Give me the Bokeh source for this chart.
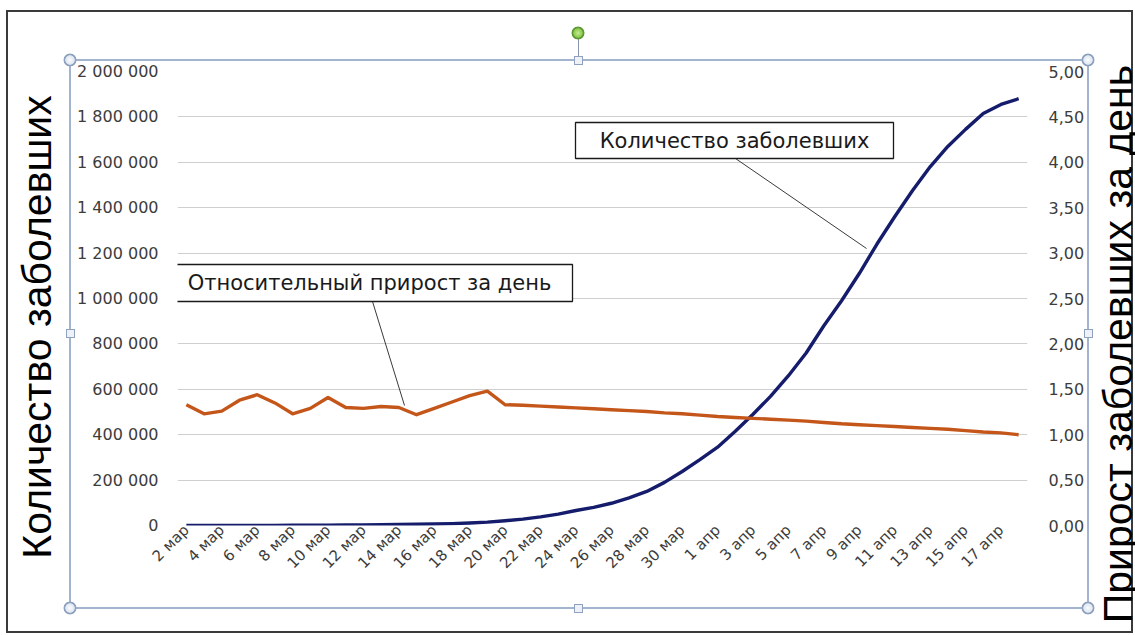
from math import pi
from bokeh.plotting import figure
from bokeh.layouts import row
from bokeh.models import (Range1d, LinearAxis, SingleIntervalTicker, FixedTicker,
                          CustomJSTickFormatter, Label, BoxAnnotation, Arrow)
from bokeh.embed import file_html
from bokeh.resources import INLINE

# ---------------- data ----------------
dates = ["2 мар", "3 мар", "4 мар", "5 мар", "6 мар", "7 мар", "8 мар", "9 мар",
         "10 мар", "11 мар", "12 мар", "13 мар", "14 мар", "15 мар", "16 мар", "17 мар",
         "18 мар", "19 мар", "20 мар", "21 мар", "22 мар", "23 мар", "24 мар", "25 мар",
         "26 мар", "27 мар", "28 мар", "29 мар", "30 мар", "31 мар", "1 апр", "2 апр",
         "3 апр", "4 апр", "5 апр", "6 апр", "7 апр", "8 апр", "9 апр", "10 апр",
         "11 апр", "12 апр", "13 апр", "14 апр", "15 апр", "16 апр", "17 апр", "18 апр"]

cases = [150, 200, 250, 320, 440, 630, 850, 1050,
         1350, 1900, 2450, 3150, 4100, 5300, 6500, 8300,
         11000, 15000, 21000, 28000, 38000, 50000, 66000, 80000,
         98000, 122000, 150000, 190000, 238000, 290000, 345000, 415000,
         490000, 570000, 660000, 760000, 880000, 990000, 1110000, 1240000,
         1360000, 1475000, 1580000, 1670000, 1745000, 1815000, 1855000, 1880000]

growth = [1.33, 1.23, 1.26, 1.38, 1.44, 1.35, 1.23, 1.29,
          1.41, 1.30, 1.29, 1.31, 1.30, 1.22, 1.29, 1.36,
          1.43, 1.48, 1.33, 1.325, 1.315, 1.305, 1.295, 1.285,
          1.275, 1.265, 1.255, 1.24, 1.23, 1.215, 1.20, 1.19,
          1.18, 1.17, 1.16, 1.15, 1.135, 1.12, 1.11, 1.10,
          1.09, 1.08, 1.07, 1.06, 1.045, 1.03, 1.02, 1.00]

left_title = "Количество заболевших"
right_title = "Прирост заболевших за день"
cases_note = "Количество заболевших"
growth_note = "Относительный прирост за день"

# ---------------- layout constants (canvas pixels) ----------------
W, H = 1135, 635
W1 = 1090                      # main figure width; a narrow strip on the right holds the title
FL, FR, FT, FB = 177, 1027, 71, 525

pos = list(range(len(dates)))


def sx(cx):
    return cx - FL


def sy(cy):
    return FB - cy


TICK_FONT = "DejaVu Sans"
TICK_COLOR = "#3c3c3c"
TITLE_FONT = "Liberation Sans"
NBSP = "\u00a0"

# ---- decorations of the Excel selection frame, drawn as CSS background layers ----
layers = []


def layer(img, x, y, w, h):
    layers.append((img, f"{x}px {y}px", f"{w}px {h}px"))


def solid(c):
    return f"linear-gradient({c},{c})"


def ring(fill_in, fill_out, edge):
    return (f"radial-gradient(circle at 7px 7px, {fill_in} 0px, {fill_out} 4.4px, {edge} 5px, "
            f"{edge} 6.1px, rgba(255,255,255,0) 6.8px)")


SEL = "#a3b4ce"
HEDGE = "#8ea2bf"
SL, SR, ST, SB = 70, 1088, 60, 608
for cx, cy in [(SL, ST), (SR, ST), (SL, SB), (SR, SB)]:
    layer(ring("#fbfcfe", "#dfe7f1", HEDGE), cx - 7, cy - 7, 14, 14)
layer(ring("#c4ea94", "#8cc94c", "#5c9a35"), 578 - 7, 33 - 7, 14, 14)
for cx, cy in [(578, ST), (578, SB), (SL, 333), (SR, 333)]:
    layer(solid("#eef2f8"), cx - 3, cy - 3, 7, 7)
    layer(solid(HEDGE), cx - 4, cy - 4, 9, 9)
layer(solid("#8796ad"), 578, 39, 1, 17)
layer(solid(SEL), SL, ST - 1, SR - SL + 1, 2)
layer(solid(SEL), SL, SB - 1, SR - SL + 1, 2)
layer(solid(SEL), SL - 1, ST, 2, SB - ST)
layer(solid(SEL), SR - 1, ST, 2, SB - ST)
OB = "#3a3a3a"
layer(solid(OB), 6, 10, 1127, 2)
layer(solid(OB), 6, 631, 1127, 2)
layer(solid(OB), 6, 10, 2, 623)
layer(solid(OB), 1131, 10, 2, 623)

p = figure(width=W1, height=H, output_backend="svg", toolbar_location=None,
           x_range=Range1d(-0.5, len(dates) - 0.5),
           y_range=Range1d(0, 2000000),
           min_border_left=FL, min_border_right=W1 - FR,
           min_border_top=FT, min_border_bottom=H - FB,
           background_fill_alpha=0, border_fill_alpha=0,
           outline_line_color=None)

p.extra_y_ranges = {"r": Range1d(0, 5)}

# left axis
ya = p.yaxis[0]
ya.ticker = SingleIntervalTicker(interval=200000, num_minor_ticks=0)
ya.formatter = CustomJSTickFormatter(
    code=r"return tick.toFixed(0).replace(/\B(?=(\d{3})+(?!\d))/g, ' ');")
ya.axis_line_color = None
ya.major_tick_line_color = None
ya.minor_tick_line_color = None
ya.major_label_standoff = 13
ya.major_label_text_font = TICK_FONT
ya.major_label_text_font_size = "16px"
ya.major_label_text_color = TICK_COLOR
ya.axis_label = left_title + NBSP * 5
ya.axis_label_standoff = 14
ya.axis_label_text_font = TITLE_FONT
ya.axis_label_text_font_size = "41px"
ya.axis_label_text_font_style = "normal"
ya.axis_label_text_color = "black"

# right axis (tick labels)
ra = LinearAxis(y_range_name="r",
                ticker=SingleIntervalTicker(interval=0.5, num_minor_ticks=0),
                formatter=CustomJSTickFormatter(code="return tick.toFixed(2).replace('.', ',');"))
ra.axis_line_color = None
ra.major_tick_line_color = None
ra.minor_tick_line_color = None
ra.major_tick_out = 0
ra.major_label_standoff = 21
ra.major_label_text_font = TICK_FONT
ra.major_label_text_font_size = "16px"
ra.major_label_text_color = TICK_COLOR
p.add_layout(ra, "right")

# x axis
xa = p.xaxis[0]
xa.ticker = FixedTicker(ticks=[i for i in pos if i % 2 == 0])
xa.major_label_overrides = {i: dates[i] for i in pos if i % 2 == 0}
xa.axis_line_color = None
xa.major_tick_line_color = None
xa.minor_tick_line_color = None
xa.major_label_orientation = pi / 4
xa.major_label_standoff = -4
xa.major_label_text_font = TICK_FONT
xa.major_label_text_font_size = "15px"
xa.major_label_text_color = TICK_COLOR

p.xgrid.grid_line_color = None
p.ygrid.grid_line_color = "#cfcfcf"
p.ygrid.grid_line_width = 1

# series
p.line(pos, cases, line_color="#141c6b", line_width=3.4, line_join="round")
p.line(pos, growth, line_color="#c4561a", line_width=3.4, line_join="round",
       y_range_name="r")

# callout boxes with leader lines
for txt, l, r, t, b, (x0, y0, x1, y1) in [
        (cases_note, 575, 893, 122, 158, (735, 158, 866, 248)),
        (growth_note, 166, 572, 264, 301, (372, 301, 404, 405))]:
    p.add_layout(Arrow(end=None, x_start=sx(x0), y_start=sy(y0), x_end=sx(x1), y_end=sy(y1),
                       start_units="screen", end_units="screen",
                       line_color="#3a3a3a", line_width=1))
    p.add_layout(BoxAnnotation(left=sx(l), right=sx(r), top=sy(t), bottom=sy(b),
                               left_units="screen", right_units="screen",
                               top_units="screen", bottom_units="screen",
                               fill_color="white", fill_alpha=1,
                               line_color="#1a1a1a", line_alpha=1, line_width=1.3))
    p.add_layout(Label(x=sx((l + r) / 2), y=sy((t + b) / 2), x_units="screen", y_units="screen",
                       text=txt, text_align="center", text_baseline="middle",
                       text_font=TICK_FONT, text_font_size="21px", text_color="#1a1a1a"))

# narrow strip holding the right-hand title: a tick-less left axis whose label reads
# bottom-to-top (padded with no-break spaces to sit a little lower, as in the reference)
W2 = W - W1
p2 = figure(width=W2, height=H, output_backend="svg", toolbar_location=None,
            x_range=Range1d(0, 1), y_range=Range1d(0, 1),
            x_axis_type=None, y_axis_type=None,
            min_border_left=40, min_border_right=0,
            min_border_top=FT, min_border_bottom=H - FB,
            background_fill_alpha=0, border_fill_alpha=0, outline_line_color=None)
ta = LinearAxis(ticker=FixedTicker(ticks=[]))
ta.axis_line_color = None
ta.major_tick_line_color = None
ta.minor_tick_line_color = None
ta.major_tick_out = 0
ta.major_tick_in = 0
ta.major_label_standoff = 0
ta.axis_label = right_title + NBSP * 8
ta.axis_label_standoff = -10
ta.axis_label_text_font = TITLE_FONT
ta.axis_label_text_font_size = "41px"
ta.axis_label_text_font_style = "normal"
ta.axis_label_text_color = "black"
p2.add_layout(ta, "left")

page = row(p, p2, spacing=0)
page.styles = {
    "background-color": "white",
    "background-image": ", ".join(l[0] for l in layers),
    "background-position": ", ".join(l[1] for l in layers),
    "background-size": ", ".join(l[2] for l in layers),
    "background-repeat": "no-repeat",
}

open("out.html", "w").write(file_html(page, INLINE))
